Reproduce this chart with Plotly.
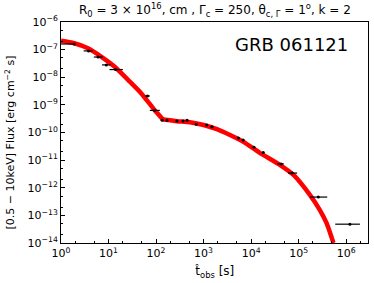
import plotly.graph_objects as go

# Observed data (Swift XRT-like points)
t_data = [1.9, 3.8, 6.0, 9.0, 14.0, 66, 93, 134, 170, 275, 370, 450, 700, 1170, 1500,
          5400, 6800, 11500, 18000, 43000, 73000, 2.6e5, 1.2e6]
flux_data = [1.6e-7, 9.0e-8, 5.4e-8, 2.8e-8, 1.9e-8, 2.1e-9, 6.3e-10, 2.8e-10, 2.8e-10,
             2.6e-10, 2.6e-10, 2.8e-10, 2.0e-10, 1.85e-10, 1.6e-10, 6.3e-11, 5.3e-11,
             2.9e-11, 1.9e-11, 7.3e-12, 3.4e-12, 4.6e-13, 4.8e-14]
t_err_minus = [0.9, 0.8, 1.1, 1.7, 3.5, 7, 19, 8, 10, 15, 20, 25, 40, 70, 90,
               300, 400, 700, 1000, 8000, 13000, 0.86e5, 0.61e6]
t_err_plus = [0.05, 0.9, 1.6, 2.0, 6.0, 8, 27, 8, 10, 15, 20, 25, 40, 70, 90,
              300, 400, 700, 1000, 6000, 20000, 1.4e5, 0.75e6]

# Model curve, split at the break
t_model_early = [1.0, 1.9, 3.7, 7.1, 13.5, 26, 49, 93, 140]
flux_model_early = [2.09e-7, 1.7e-7, 1.12e-7, 5.5e-8, 2.4e-8, 7.9e-9, 2.6e-9, 6.5e-10, 2.95e-10]
t_model_late = [140, 275, 520, 1000, 1900, 3600, 6900, 15500, 41000, 78000, 1.74e5,
                2.8e5, 3.9e5, 5.0e5, 5.4e5]
flux_model_late = [2.95e-10, 2.57e-10, 2.34e-10, 1.86e-10, 1.32e-10, 8.1e-11, 4.6e-11,
                   1.8e-11, 6.6e-12, 2.9e-12, 5.4e-13, 1.55e-13, 5.1e-14, 1.5e-14, 1.0e-14]

x_tickvals = [1, 10, 100, 1e3, 1e4, 1e5, 1e6]
x_ticktext = ["10<sup>0</sup>", "10<sup>1</sup>", "10<sup>2</sup>", "10<sup>3</sup>",
              "10<sup>4</sup>", "10<sup>5</sup>", "10<sup>6</sup>"]
y_tickvals = [1e-14, 1e-13, 1e-12, 1e-11, 1e-10, 1e-9, 1e-8, 1e-7, 1e-6]
y_ticktext = ["10<sup>−14</sup>", "10<sup>−13</sup>", "10<sup>−12</sup>", "10<sup>−11</sup>",
              "10<sup>−10</sup>", "10<sup>−9</sup>", "10<sup>−8</sup>", "10<sup>−7</sup>",
              "10<sup>−6</sup>"]

font = "DejaVu Sans"
fig = go.Figure()
for tx, fy in [(t_model_early, flux_model_early), (t_model_late, flux_model_late)]:
    fig.add_trace(go.Scatter(x=tx, y=fy, mode="lines",
                             line=dict(color="#ff0000", width=4.5, shape="spline", smoothing=0.6),
                             showlegend=False, hoverinfo="skip"))
fig.add_trace(go.Scatter(
    x=t_data, y=flux_data, mode="markers",
    marker=dict(color="black", size=3),
    error_x=dict(type="data", symmetric=False, array=t_err_plus, arrayminus=t_err_minus,
                 color="black", thickness=1.2, width=0),
    showlegend=False))

axis_common = dict(type="log", showline=True, linecolor="black", linewidth=1, mirror=True,
                   ticks="inside", ticklen=4, tickcolor="black", showgrid=False, zeroline=False,
                   tickfont=dict(family=font, size=11, color="black"),
                   minor=dict(ticks="inside", ticklen=2, tickcolor="black", showgrid=False))
fig.update_xaxes(range=[0, 6.46], tickvals=x_tickvals, ticktext=x_ticktext, **axis_common)
fig.update_yaxes(range=[-14, -6], tickvals=y_tickvals, ticktext=y_ticktext, **axis_common)

fig.update_layout(
    width=374, height=283,
    margin=dict(l=61, r=6, t=22, b=40),
    paper_bgcolor="white", plot_bgcolor="white",
    font=dict(family=font, color="black"),
    annotations=[
        dict(text="R<sub>0</sub> = 3 × 10<sup>16</sup>, cm , Γ<sub>c</sub> = 250, θ<sub>c, Γ</sub> = 1<sup>o</sup>, k = 2",
             xref="paper", yref="paper", x=0.5, y=1.0, yshift=1, xanchor="center", yanchor="bottom",
             showarrow=False, font=dict(family=font, size=12)),
        dict(text="GRB 061121", xref="paper", yref="paper", x=0.75, y=0.90,
             xanchor="center", yanchor="middle", showarrow=False, font=dict(family=font, size=18)),
        dict(text="t̂<sub>obs</sub> [s]", xref="paper", yref="paper", x=0.5, y=0, yshift=-29,
             xanchor="center", yanchor="middle", showarrow=False, font=dict(family=font, size=12)),
        dict(text="[0.5 − 10keV] Flux [erg cm<sup>−2</sup> s]", xref="paper", yref="paper",
             x=0, xshift=-51, y=0.455, xanchor="center", yanchor="middle", textangle=-90,
             showarrow=False, font=dict(family=font, size=11)),
    ],
)
fig.write_html("out.html", config={"displayModeBar": False},
               post_script="document.body.style.margin='0';document.body.style.padding='0';")
